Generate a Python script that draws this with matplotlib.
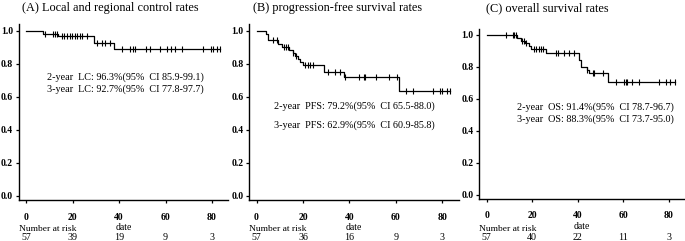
import numpy as np
import matplotlib.pyplot as plt
from matplotlib.transforms import blended_transform_factory

plt.rcParams['font.family'] = ['Liberation Serif', 'DejaVu Serif']

# (A) local and regional control
a_times = [0, 7.5, 13.9, 29.2, 38.0]
a_surv = [1.0, 0.98, 0.972, 0.929, 0.889]
a_cens = [8.2, 11.8, 12.5, 13.2, 15.3, 16.5, 17.6, 18.7, 19.8, 20.9, 22.0, 23.1, 24.2, 26.1,
          30.4, 32.6, 34.0, 36.1, 41.2, 44.7, 46.2, 46.9, 51.6, 53.3, 57.6, 60.5, 62.2,
          64.1, 67.2, 76.3, 79.4, 80.3, 82.0, 83.4]
a_risk = [57, 39, 19, 9, 3]

# (B) progression-free survival
b_times = [0, 4.1, 5.1, 9.4, 11.0, 14.0, 15.5, 16.5, 17.8, 18.5, 20.0, 29.0, 37.6, 61.3]
b_surv = [1.0, 0.982, 0.947, 0.92, 0.90, 0.885, 0.867, 0.85, 0.83, 0.81, 0.794, 0.753, 0.72, 0.636]
b_cens = [7.2, 8.7, 12.0, 12.8, 13.5, 15.8, 17.0, 21.0, 22.0, 23.0, 24.3, 30.6, 33.8, 35.9,
          38.2, 44.2, 46.4, 46.8, 51.4, 57.1, 60.3, 64.2, 67.2, 76.1, 79.2, 79.9, 82.1, 83.2]
b_risk = [57, 36, 16, 9, 3]

# (C) overall survival
c_times = [0, 13.5, 15.0, 17.0, 18.5, 19.6, 26.2, 40.4, 41.3, 44.1, 45.2, 53.2]
c_surv = [1.0, 0.982, 0.965, 0.947, 0.93, 0.91, 0.886, 0.844, 0.80, 0.78, 0.764, 0.704]
c_cens = [8.3, 11.4, 12.1, 12.8, 15.5, 16.3, 17.5, 20.7, 21.8, 22.8, 23.7, 24.6, 30.6, 31.3,
          34.2, 36.1, 38.2, 44.1, 46.6, 47.3, 51.0, 57.0, 60.4, 61.1, 61.8, 64.0, 67.2,
          76.0, 79.0, 80.8, 82.7]
c_risk = [57, 40, 22, 11, 3]

risk_ticks = [0, 20, 40, 60, 80]
titles = ['(A) Local and regional control rates',
          '(B) progression-free survival rates',
          '(C) overall survival rates']
notes = [['2-year  LC: 96.3%(95%  CI 85.9-99.1)', '3-year  LC: 92.7%(95%  CI 77.8-97.7)'],
         ['2-year  PFS: 79.2%(95%  CI 65.5-88.0)', '3-year  PFS: 62.9%(95%  CI 60.9-85.8)'],
         ['2-year  OS: 91.4%(95%  CI 78.7-96.7)', '3-year  OS: 88.3%(95%  CI 73.7-95.0)']]

W, H = 685, 241
fig = plt.figure(figsize=(W / 100, H / 100), dpi=100)

# pixel boxes: left, right, top, bottom
boxes = [(18.6, 228.3, 24.4, 200.1), (249.1, 458.6, 24.4, 200.1), (479.4, 684.5, 28.6, 199.0)]
title_pos = [(22, 8), (253, 8), (486, 8)]
note_pos = [(46.7, 76.7, 89.3), (273.7, 106, 125), (517.3, 107.3, 119.5)]

panels = [(a_times, a_surv, a_cens, a_risk), (b_times, b_surv, b_cens, b_risk),
          (c_times, c_surv, c_cens, c_risk)]

for i, (times, surv, cens, risk) in enumerate(panels):
    l, r, t, b = boxes[i]
    ax = fig.add_axes([l / W, 1 - b / H, (r - l) / W, (b - t) / H])
    tt = list(times) + [max(cens)]
    ss = list(surv) + [surv[-1]]
    ax.step(tt, ss, where='post', color='black', lw=0.9)
    idx = np.searchsorted(times, cens, side='right') - 1
    ax.plot(cens, np.array(surv)[idx], ls='none', marker='|', ms=4.5, mew=0.8, color='black')

    ax.set_xlim(-3.2, 87)
    ax.set_ylim(-0.025, 1.04)
    ax.set_xticks(risk_ticks)
    ax.set_yticks([0, 0.2, 0.4, 0.6, 0.8, 1.0])
    ax.set_yticklabels(['0.0', '0.2', '0.4', '0.6', '0.8', '1.0'])
    ax.spines['top'].set_visible(False)
    ax.spines['right'].set_visible(False)
    for s in ['left', 'bottom']:
        ax.spines[s].set_linewidth(1.0)
    ax.tick_params(axis='y', length=2.5, width=0.9, pad=1.5, labelsize=7)
    ax.tick_params(axis='x', length=2.5, width=0.9, pad=6.5, labelsize=7)
    for lab in ax.get_xticklabels() + ax.get_yticklabels():
        lab.set_fontweight('bold')
    ax.set_xlabel('date', fontsize=7, labelpad=1.2)

    fig.text(title_pos[i][0] / W, 1 - title_pos[i][1] / H, titles[i], fontsize=8.8,
             ha='left', va='center')
    nx, ny1, ny2 = note_pos[i]
    fig.text(nx / W, 1 - ny1 / H, notes[i][0], fontsize=7.3, ha='left', va='center')
    fig.text(nx / W, 1 - ny2 / H, notes[i][1], fontsize=7.3, ha='left', va='center')

    tr = blended_transform_factory(ax.transData, fig.transFigure)
    fig.text(l / W, 1 - 229 / H, 'Number at risk', fontsize=6.8, ha='left', va='center')
    for xv, n in zip(risk_ticks, risk):
        ax.text(xv, 1 - 237.5 / H, str(n), transform=tr, fontsize=7.2, ha='center',
                va='center', clip_on=False)

fig.savefig('out.png', dpi=100)
